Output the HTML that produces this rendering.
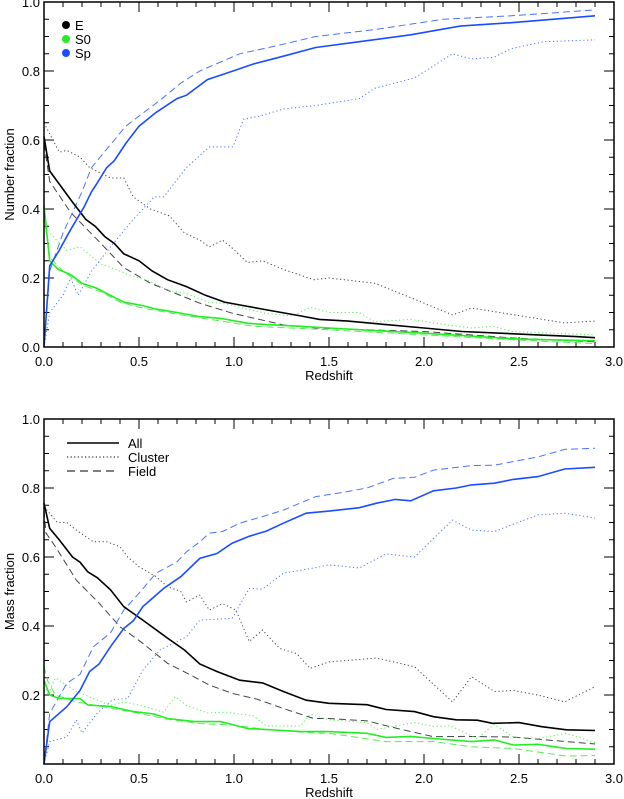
<!DOCTYPE html>
<html><head><meta charset="utf-8"><style>
html,body{margin:0;padding:0;background:#fff;}
svg{display:block;font-family:"Liberation Sans",Arial,sans-serif;}
</style></head><body>
<svg id="chart" width="624" height="799" viewBox="0 0 624 799" xmlns="http://www.w3.org/2000/svg"></svg>
<script>
// ---- data: top panel (number fraction) ----
const zEAllN=[0,0.03,0.07,0.15,0.22,0.27,0.32,0.37,0.42,0.5,0.57,0.65,0.75,0.85,0.95,1.05,1.15,1.25,1.35,1.45,1.6,1.8,2.0,2.2,2.4,2.6,2.8,2.9];
const vEAllN=[0.61,0.51,0.48,0.42,0.37,0.35,0.32,0.30,0.27,0.25,0.22,0.195,0.175,0.15,0.13,0.12,0.11,0.10,0.09,0.08,0.075,0.065,0.055,0.045,0.04,0.035,0.03,0.027];
const zEClN=[0,0.08,0.12,0.19,0.24,0.35,0.42,0.47,0.56,0.66,0.74,0.82,0.87,0.94,0.995,1.07,1.15,1.26,1.42,1.5,1.74,1.9,2.15,2.25,2.42,2.74,2.9];
const vEClN=[0.65,0.565,0.57,0.55,0.52,0.49,0.49,0.435,0.40,0.38,0.33,0.31,0.29,0.31,0.285,0.245,0.25,0.225,0.195,0.2,0.185,0.15,0.093,0.113,0.098,0.07,0.075];
const zEFiN=[0,0.03,0.14,0.3,0.42,0.56,0.82,0.99,1.26,1.43,1.7,2.0,2.5,2.9];
const vEFiN=[0.59,0.48,0.39,0.30,0.23,0.185,0.127,0.098,0.064,0.055,0.05,0.045,0.025,0.015];
const zSAllN=[0,0.03,0.075,0.14,0.2,0.28,0.33,0.42,0.52,0.59,0.7,0.82,0.93,1.07,1.17,1.35,1.5,2.0,2.5,2.9];
const vSAllN=[0.41,0.25,0.225,0.21,0.185,0.17,0.155,0.13,0.12,0.11,0.10,0.088,0.083,0.069,0.065,0.06,0.055,0.04,0.023,0.018];
const zSClN=[0,0.03,0.12,0.19,0.3,0.38,0.44,0.56,0.65,0.75,0.86,0.96,1.07,1.17,1.31,1.4,1.5,1.66,1.74,1.93,2.12,2.25,2.36,2.46,2.9];
const vSClN=[0.38,0.33,0.28,0.29,0.24,0.225,0.21,0.19,0.165,0.155,0.13,0.125,0.11,0.097,0.09,0.115,0.1,0.1,0.073,0.08,0.064,0.055,0.06,0.045,0.035];
const zSFiN=[0,0.03,0.1,0.2,0.3,0.4,0.5,0.7,0.9,1.1,1.3,1.5,2.0,2.5,2.9];
const vSFiN=[0.38,0.26,0.22,0.18,0.16,0.13,0.115,0.095,0.078,0.06,0.055,0.05,0.035,0.02,0.01];
const zPAllN=[0,0.03,0.08,0.14,0.21,0.25,0.28,0.33,0.37,0.43,0.5,0.59,0.7,0.75,0.86,0.995,1.1,1.24,1.43,1.66,1.93,2.19,2.46,2.9];
const vPAllN=[0,0.235,0.28,0.34,0.405,0.45,0.475,0.52,0.54,0.59,0.64,0.68,0.72,0.73,0.775,0.80,0.82,0.84,0.868,0.885,0.905,0.93,0.94,0.96];
const zPFiN=[0,0.03,0.1,0.2,0.25,0.43,0.61,0.72,0.82,1.03,1.24,1.43,1.74,2.1,2.46,2.9];
const vPFiN=[0,0.22,0.33,0.45,0.52,0.64,0.715,0.765,0.80,0.85,0.875,0.90,0.92,0.95,0.96,0.977];
const zPClN=[0,0.03,0.1,0.14,0.18,0.25,0.35,0.47,0.58,0.63,0.75,0.87,0.995,1.05,1.14,1.26,1.43,1.66,1.74,1.95,2.15,2.25,2.37,2.46,2.63,2.9];
const vPClN=[0,0.1,0.15,0.2,0.15,0.22,0.29,0.37,0.435,0.435,0.52,0.58,0.58,0.66,0.67,0.69,0.70,0.72,0.75,0.78,0.85,0.835,0.84,0.865,0.885,0.89];
// ---- data: bottom panel (mass fraction) ----
const zEAllM=[0,0.03,0.08,0.15,0.19,0.23,0.28,0.35,0.42,0.52,0.65,0.74,0.82,0.91,1.03,1.15,1.26,1.38,1.5,1.7,1.8,1.95,2.05,2.17,2.28,2.36,2.5,2.62,2.75,2.9];
const vEAllM=[0.756,0.683,0.65,0.60,0.585,0.557,0.54,0.505,0.456,0.417,0.365,0.33,0.29,0.268,0.243,0.235,0.21,0.185,0.176,0.172,0.158,0.152,0.137,0.128,0.127,0.118,0.12,0.108,0.099,0.097];
const zEClM=[0,0.07,0.12,0.17,0.26,0.33,0.4,0.44,0.5,0.59,0.65,0.72,0.75,0.82,0.87,0.94,1.01,1.08,1.15,1.24,1.33,1.4,1.5,1.75,1.95,2.15,2.25,2.37,2.47,2.6,2.74,2.9];
const vEClM=[0.746,0.70,0.70,0.678,0.644,0.644,0.63,0.60,0.572,0.543,0.514,0.50,0.47,0.49,0.446,0.465,0.446,0.355,0.388,0.335,0.32,0.277,0.296,0.307,0.282,0.18,0.253,0.21,0.213,0.20,0.18,0.224];
const zEFiM=[0,0.01,0.06,0.17,0.29,0.4,0.52,0.65,0.75,0.87,0.99,1.12,1.26,1.42,1.5,1.7,1.86,2.05,2.22,2.47,2.75,2.9];
const vEFiM=[0.736,0.67,0.63,0.533,0.466,0.398,0.35,0.292,0.264,0.229,0.205,0.188,0.161,0.132,0.132,0.125,0.103,0.079,0.08,0.078,0.065,0.058];
const zSAllM=[0,0.03,0.08,0.19,0.23,0.35,0.47,0.58,0.65,0.79,0.93,1.07,1.17,1.35,1.5,1.7,1.8,1.93,2.05,2.25,2.37,2.47,2.6,2.75,2.9];
const vSAllM=[0.243,0.2,0.19,0.19,0.171,0.167,0.152,0.145,0.132,0.123,0.123,0.103,0.10,0.094,0.094,0.089,0.077,0.08,0.074,0.065,0.07,0.055,0.057,0.045,0.043];
const zSClM=[0,0.02,0.06,0.17,0.26,0.35,0.42,0.52,0.63,0.69,0.75,0.86,0.96,1.1,1.17,1.35,1.4,1.5,1.7,1.75,1.95,2.05,2.14,2.28,2.37,2.47,2.6,2.75,2.9];
const vSClM=[0.25,0.2,0.25,0.21,0.19,0.17,0.18,0.168,0.15,0.195,0.17,0.148,0.15,0.14,0.11,0.11,0.145,0.128,0.12,0.1,0.12,0.109,0.11,0.074,0.115,0.078,0.074,0.089,0.062];
const zSFiM=[0,0.02,0.06,0.17,0.29,0.47,0.65,0.82,0.99,1.17,1.43,1.5,1.8,2.05,2.25,2.47,2.75,2.9];
const vSFiM=[0.282,0.24,0.2,0.18,0.168,0.15,0.13,0.117,0.113,0.1,0.09,0.089,0.065,0.065,0.05,0.045,0.023,0.025];
const zPAllM=[0,0.03,0.12,0.19,0.24,0.29,0.35,0.42,0.47,0.52,0.63,0.72,0.82,0.91,0.99,1.08,1.17,1.26,1.38,1.5,1.66,1.75,1.85,1.93,2.05,2.17,2.25,2.37,2.47,2.6,2.74,2.9];
const vPAllM=[0,0.123,0.166,0.214,0.268,0.29,0.34,0.393,0.415,0.456,0.509,0.543,0.596,0.61,0.64,0.66,0.675,0.698,0.727,0.733,0.743,0.756,0.767,0.763,0.792,0.80,0.809,0.814,0.825,0.833,0.855,0.86];
const zPFiM=[0,0.03,0.12,0.19,0.26,0.35,0.42,0.5,0.59,0.7,0.75,0.82,0.87,0.94,1.03,1.15,1.26,1.43,1.57,1.7,1.84,1.95,2.05,2.25,2.37,2.6,2.74,2.9];
const vPFiM=[0,0.147,0.234,0.26,0.34,0.38,0.446,0.495,0.553,0.586,0.615,0.644,0.669,0.674,0.698,0.717,0.736,0.775,0.787,0.80,0.828,0.831,0.852,0.865,0.866,0.89,0.912,0.915];
const zPClM=[0,0.03,0.12,0.17,0.2,0.28,0.36,0.44,0.52,0.61,0.75,0.82,0.99,1.08,1.15,1.26,1.42,1.5,1.66,1.8,1.95,2.15,2.25,2.37,2.6,2.74,2.9];
const vPClM=[0,0.065,0.078,0.128,0.09,0.147,0.186,0.19,0.272,0.33,0.369,0.417,0.422,0.509,0.507,0.553,0.568,0.577,0.568,0.609,0.60,0.707,0.678,0.674,0.722,0.727,0.713];
const xTicks=[0,0.5,1.0,1.5,2.0,2.5,3.0];
const xTickLabels=["0.0","0.5","1.0","1.5","2.0","2.5","3.0"];
const yTicksTop=[0,0.2,0.4,0.6,0.8,1.0];
const yTickLabelsTop=["0.0","0.2","0.4","0.6","0.8","1.0"];
const yTicksBot=[0.2,0.4,0.6,0.8,1.0];
const yTickLabelsBot=["0.2","0.4","0.6","0.8","1.0"];

const NS="http://www.w3.org/2000/svg";
const svg=document.getElementById('chart');
const X0=44,X1=614;
function xs(z){return X0+(X1-X0)*z/3;}
function mk(tag,attrs,parent){const e=document.createElementNS(NS,tag);for(const k in attrs)e.setAttribute(k,attrs[k]);(parent||svg).appendChild(e);return e;}
const BLACK="#000",GREEN="#22ee22",BLUE="#1a4dff",BLUEL="#4a74ff",GREENL="#55ee55",GREYD="#444";

function panel(id,top,bot,yTicks,yLabels,title,series){
  const ys=v=>bot-(bot-top)*v;
  const g=mk('g',{});
  
  
  // minor/major ticks
  for(let i=0;i<=30;i++){
    const z=i/10,x=xs(z),len=(i%5===0)?10:5;
    const t1=mk('line',{x1:x,x2:x,y1:bot,y2:bot-len,stroke:'#000','stroke-width':1},g);
    
    
    const t2=mk('line',{x1:x,x2:x,y1:top,y2:top+len,stroke:'#000','stroke-width':1},g);
    
    
  }
  for(let i=0;i<=20;i++){
    const v=i/20,y=ys(v),len=(i%4===0)?10:5;
    const t1=mk('line',{x1:X0,x2:X0+len,y1:y,y2:y,stroke:'#000','stroke-width':1},g);
    
    
    const t2=mk('line',{x1:X1,x2:X1-len,y1:y,y2:y,stroke:'#000','stroke-width':1},g);
    
    
  }
  xTicks.forEach((z,i)=>{
    const t=mk('text',{x:xs(z),y:bot+19,'font-size':13,'text-anchor':'middle'},g);
    t.textContent=xTickLabels[i];
    
    
  });
  yTicks.forEach((v,i)=>{
    const t=mk('text',{x:X0-4,y:ys(v)+5,'font-size':13,'text-anchor':'end'},g);
    t.textContent=yLabels[i];
    
    
  });
  const xt=mk('text',{x:(X0+X1)/2,y:bot+33,'font-size':13,'text-anchor':'middle'},g);
  xt.textContent='Redshift';
  
  
  const cy=(top+bot)/2;
  const yt=mk('text',{x:14,y:cy,'font-size':13,'text-anchor':'middle',transform:`rotate(-90 14 ${cy})`},g);
  yt.textContent=title;
  
  
  series.forEach(s=>{
    const d=s.z.map((z,i)=>(i?'L':'M')+xs(z).toFixed(1)+' '+ys(s.v[i]).toFixed(1)).join(' ');
    const p=mk('path',{d:d,fill:'none',stroke:s.c,'stroke-width':s.w},g);
    if(s.dash)p.setAttribute('stroke-dasharray',s.dash);
    
    
  });
  const fr=mk('rect',{x:X0,y:top,width:X1-X0,height:bot-top,fill:'none',stroke:'#000','stroke-width':1.5},g);
  
  
  return ys;
}
const DOT='1.2 2.6',DASH='7 4';
panel('number-fraction-panel',2,347,yTicksTop,yTickLabelsTop,'Number fraction',[
 {name:'e-cluster-line',z:zEClN,v:vEClN,c:GREYD,w:1,dash:DOT},
 {name:'e-field-line',z:zEFiN,v:vEFiN,c:GREYD,w:1,dash:DASH},
 {name:'s0-cluster-line',z:zSClN,v:vSClN,c:GREENL,w:1,dash:DOT},
 {name:'s0-field-line',z:zSFiN,v:vSFiN,c:GREENL,w:1,dash:DASH},
 {name:'sp-cluster-line',z:zPClN,v:vPClN,c:BLUEL,w:1,dash:DOT},
 {name:'sp-field-line',z:zPFiN,v:vPFiN,c:BLUEL,w:1,dash:DASH},
 {name:'e-all-line',z:zEAllN,v:vEAllN,c:BLACK,w:1.6},
 {name:'s0-all-line',z:zSAllN,v:vSAllN,c:GREEN,w:1.6},
 {name:'sp-all-line',z:zPAllN,v:vPAllN,c:BLUE,w:1.6}
]);
panel('mass-fraction-panel',419,764,yTicksBot,yTickLabelsBot,'Mass fraction',[
 {name:'e-cluster-line',z:zEClM,v:vEClM,c:GREYD,w:1,dash:DOT},
 {name:'e-field-line',z:zEFiM,v:vEFiM,c:GREYD,w:1,dash:DASH},
 {name:'s0-cluster-line',z:zSClM,v:vSClM,c:GREENL,w:1,dash:DOT},
 {name:'s0-field-line',z:zSFiM,v:vSFiM,c:GREENL,w:1,dash:DASH},
 {name:'sp-cluster-line',z:zPClM,v:vPClM,c:BLUEL,w:1,dash:DOT},
 {name:'sp-field-line',z:zPFiM,v:vPFiM,c:BLUEL,w:1,dash:DASH},
 {name:'e-all-line',z:zEAllM,v:vEAllM,c:BLACK,w:1.6},
 {name:'s0-all-line',z:zSAllM,v:vSAllM,c:GREEN,w:1.6},
 {name:'sp-all-line',z:zPAllM,v:vPAllM,c:BLUE,w:1.6}
]);
// legends
const legTypes=[["E",BLACK],["S0",GREEN],["Sp",BLUE]];
legTypes.forEach((l,i)=>{
  const y=25+i*14;
  const c=mk('circle',{cx:66,cy:y,r:4,fill:l[1]});
  
  
  const t=mk('text',{x:75,y:y+5,'font-size':13});
  t.textContent=l[0];
  
  
});
const legStyles=[["All",null],["Cluster","1.2 2.4"],["Field","8 5"]];
legStyles.forEach((l,i)=>{
  const y=443+i*14;
  const ln=mk('line',{x1:67,x2:119,y1:y,y2:y,stroke:'#000','stroke-width':l[1]?1:1.5});
  if(l[1])ln.setAttribute('stroke-dasharray',l[1]);
  
  
  const t=mk('text',{x:128,y:y+5,'font-size':13});
  t.textContent=l[0];
  
  
});
</script>
</body></html>
